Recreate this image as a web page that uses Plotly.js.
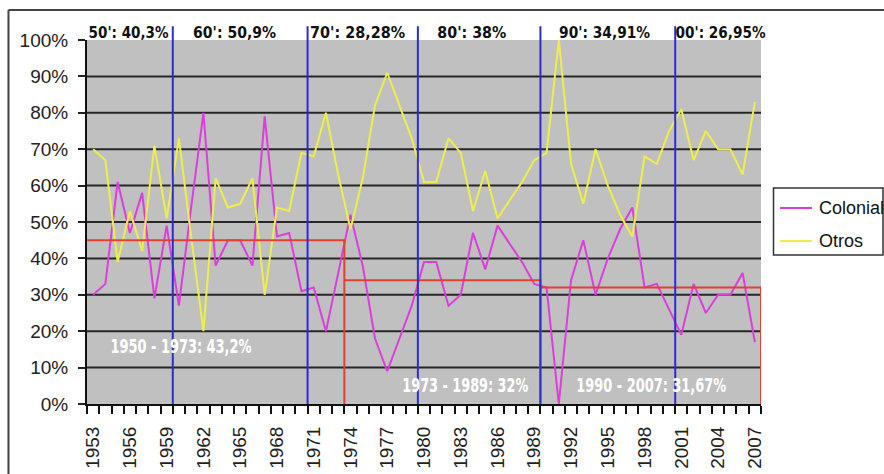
<!DOCTYPE html>
<html><head><meta charset="utf-8">
<script src="https://cdn.plot.ly/plotly-3.0.1.min.js"></script>
<style>html,body{margin:0;padding:0;background:#fff;}#chart{width:884px;height:474px;}</style>
</head><body><div id="chart"></div>
<script>
// ---- data ----
const years = [1953,1954,1955,1956,1957,1958,1959,1960,1961,1962,1963,1964,1965,1966,1967,1968,1969,1970,
  1971,1972,1973,1974,1975,1976,1977,1978,1979,1980,1981,1982,1983,1984,1985,1986,1987,1988,1989,1990,
  1991,1992,1993,1994,1995,1996,1997,1998,1999,2000,2001,2002,2003,2004,2005,2006,2007];
const colonial = [30,33,61,47,58,29,49,27,54,80,38,45,45,38,79,46,47,31,
  32,20,36,52,38,18,9,18,27,39,39,27,30,47,37,49,44,39,33,32,
  0,34,45,30,40,48,54,32,33,26,19,33,25,30,30,36,17];
const otros = [70,67,39,53,42,71,51,73,46,20,62,54,55,62,30,54,53,69,
  68,80,63,48,62,82,91,82,73,61,61,73,69,53,64,51,56,61,67,69,
  100,66,55,70,60,52,46,68,66,75,81,67,75,70,70,63,83];
const tickYears = [1953,1956,1959,1962,1965,1968,1971,1974,1977,1980,1983,1986,1989,1992,1995,1998,2001,2004,2007];
const yTicks = [0,10,20,30,40,50,60,70,80,90,100];
const decadeLabels = ["50': 40,3%","60': 50,9%","70': 28,28%","80': 38%","90': 34,91%","00': 26,95%"];
const decadeSplits = [1960,1971,1980,1990,2001];   // first year after each blue divider
const periodLabels = ["1950 - 1973: 43,2%","1973 - 1989: 32%","1990 - 2007: 31,67%"];
const periodFirst = [1953,1974,1990];
const periodLast  = [1973,1989,2007];
const periodLevel = [45,34,32];
const seriesNames = ['Colonial','Otros'];
const seriesColors = ['#dc3edc','#eeee4a'];

// ---- build ----
const half = 0.5;
const boundaries = years.map(y => y - half).concat([years[years.length-1] + half]);

const redX = [], redY = [];
periodFirst.forEach((f, i) => {
  redX.push(f - half, periodLast[i] + half, periodLast[i] + half, null);
  redY.push(periodLevel[i], periodLevel[i], 0, null);
});

const traces = [
  {x: years, y: colonial, name: seriesNames[0], type: 'scatter', mode: 'lines',
   line: {color: seriesColors[0], width: 2}},
  {x: years, y: otros, name: seriesNames[1], type: 'scatter', mode: 'lines',
   line: {color: seriesColors[1], width: 2}},
  {x: redX, y: redY, type: 'scatter', mode: 'lines', hoverinfo: 'skip',
   line: {color: '#e2412f', width: 2}}
];

const shapes = [];
// horizontal gridlines (none at the 100% top edge)
yTicks.filter(v => v > 0 && v < 100).forEach(v => shapes.push({
  type: 'line', xref: 'paper', yref: 'y', x0: 0, x1: 1, y0: v, y1: v,
  line: {color: '#262626', width: 2}, layer: 'below'
}));
decadeSplits.forEach(s => shapes.push({
  type: 'line', xref: 'x', yref: 'paper', x0: s - half, x1: s - half, y0: 0, y1: 1.038,
  line: {color: '#2c2cd2', width: 2}, layer: 'above'
}));
// outer frame (top and left edges visible)
shapes.push({type: 'line', xref: 'paper', yref: 'paper', x0: -0.1165, x1: 1.3, y0: 1.0824, y1: 1.0824,
  line: {color: '#444', width: 2}});
shapes.push({type: 'line', xref: 'paper', yref: 'paper', x0: -0.1165, x1: -0.1165, y0: 1.0824, y1: -0.3,
  line: {color: '#444', width: 2}});
// legend box (px -> paper: x=(px-87)/674, y=(404-py)/364)
const px = v => (v - 87) / 674, py = v => (404 - v) / 364;
shapes.push({type: 'rect', xref: 'paper', yref: 'paper', x0: px(773.5), x1: px(883), y0: py(188), y1: py(255),
  line: {color: '#333', width: 1.5}, fillcolor: '#ffffff'});
const legendRows = [208, 241];
seriesNames.forEach((n, i) => shapes.push({type: 'line', xref: 'paper', yref: 'paper',
  x0: px(780), x1: px(812), y0: py(legendRows[i]), y1: py(legendRows[i]),
  line: {color: seriesColors[i], width: 2}}));

const decadeX = [128, 234, 357, 472, 604, 720];
const annotations = decadeLabels.map((t, i) => ({
  text: t, xref: 'paper', yref: 'paper', x: px(decadeX[i]), y: py(32.5), xanchor: 'center', yanchor: 'middle',
  showarrow: false, font: {family: 'DejaVu Sans Condensed, DejaVu Sans', weight: 'bold', size: 16, color: '#111'}
}));
const periodPos = [[1960.2, 15.9], [1983.4, 5.2], [1998.6, 5.2]];
periodLabels.forEach((t, i) => annotations.push({
  text: t, xref: 'x', yref: 'y', x: periodPos[i][0], y: periodPos[i][1], xanchor: 'center', yanchor: 'middle',
  showarrow: false, font: {family: 'DejaVu Sans Condensed, DejaVu Sans', weight: 'bold', size: 20, color: '#ffffff'}
}));
seriesNames.forEach((n, i) => annotations.push({
  text: n, xref: 'paper', yref: 'paper', x: px(817), y: py(legendRows[i]), xanchor: 'left', yanchor: 'middle',
  showarrow: false, font: {family: 'Liberation Sans, Arial', size: 18, color: '#111'}
}));

const layout = {
  width: 884, height: 474,
  margin: {l: 87, r: 123, t: 40, b: 70, pad: 0},
  paper_bgcolor: '#ffffff', plot_bgcolor: '#c0c0c0',
  showlegend: false,
  font: {family: 'Liberation Sans, Arial, sans-serif', color: '#222'},
  xaxis: {
    range: [years[0] - half, years[years.length-1] + half],
    tickmode: 'array', tickvals: tickYears, ticktext: tickYears.map(String),
    tickangle: -90, ticks: '', showgrid: false, zeroline: false,
    showline: true, linecolor: '#111', linewidth: 2,
    ticklabelstandoff: 13,
    tickfont: {size: 19, color: '#222'},
    minor: {tickmode: 'array', tickvals: boundaries, ticks: 'outside', ticklen: 8, tickwidth: 2,
            tickcolor: '#111', showgrid: false}
  },
  yaxis: {
    range: [0, 100], tickmode: 'array', tickvals: yTicks, ticktext: yTicks.map(v => v + '%'),
    showgrid: false, zeroline: false,
    ticks: 'outside', ticklen: 7, tickwidth: 2, tickcolor: '#222',
    showline: true, linecolor: '#111', linewidth: 2,
    ticklabelstandoff: 6,
    tickfont: {size: 19, color: '#222'}
  },
  shapes: shapes,
  annotations: annotations
};

// target text widths (px) measured on the reference, for the condensed labels
const widths = {};
decadeLabels.forEach((t, i) => widths[t] = [80, 83, 95, 69, 91, 90][i]);
periodLabels.forEach((t, i) => widths[t] = [141, 126, 150][i]);

Plotly.newPlot('chart', traces, layout, {displayModeBar: false, staticPlot: true}).then(gd => {
  gd.querySelectorAll('text.annotation-text').forEach(el => {
    const w = widths[el.textContent];
    if (w) { el.setAttribute('textLength', w); el.setAttribute('lengthAdjust', 'spacingAndGlyphs'); }
  });
});
</script></body></html>
